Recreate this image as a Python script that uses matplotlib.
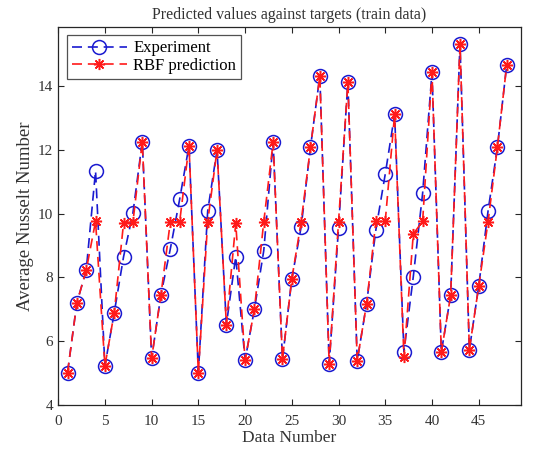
import matplotlib
matplotlib.use("Agg")
import matplotlib.pyplot as plt
import numpy as np

plt.rcParams['font.family'] = ['Liberation Serif', 'DejaVu Serif']

data_number = list(range(1, 49))
experiment = [5.01, 7.20, 8.22, 11.34, 5.22, 6.89, 8.65, 10.02, 12.26, 5.46,
              7.46, 8.89, 10.45, 12.13, 5.01, 10.08, 12.00, 6.52, 8.65, 5.40,
              7.00, 8.84, 12.24, 5.43, 7.95, 9.58, 12.08, 14.32, 5.28, 9.55,
              14.12, 5.38, 7.17, 9.50, 11.24, 13.11, 5.67, 8.02, 10.64, 14.43,
              5.65, 7.44, 15.33, 5.73, 7.72, 10.08, 12.08, 14.67]
rbf_pred = [5.01, 7.20, 8.22, 9.76, 5.22, 6.89, 9.71, 9.73, 12.26, 5.46,
            7.46, 9.74, 9.74, 12.13, 5.01, 9.74, 12.00, 6.52, 9.70, 5.40,
            7.00, 9.74, 12.24, 5.43, 7.95, 9.74, 12.08, 14.32, 5.28, 9.74,
            14.12, 5.38, 7.17, 9.76, 9.76, 13.11, 5.49, 9.36, 9.76, 14.43,
            5.65, 7.44, 15.33, 5.73, 7.72, 9.74, 12.08, 14.67]

xticks = [0, 5, 10, 15, 20, 25, 30, 35, 40, 45]
yticks = [4, 6, 8, 10, 12, 14]

fig = plt.figure(figsize=(5.54, 4.59), dpi=100)
ax = fig.add_axes([0.105, 0.118, 0.835, 0.823])

ax.plot(data_number, experiment, linestyle='--', color='#1a1ad0', marker='o',
        markersize=10, markerfacecolor='none', markeredgecolor='#1a1ad0',
        markeredgewidth=1.1, linewidth=1.2, dashes=(6, 3.5), label='Experiment')
ax.plot(data_number, rbf_pred, linestyle='--', color='#ff1a1a', marker=(8, 2, 0),
        markersize=8, markeredgecolor='#ff1a1a', markeredgewidth=1.1,
        linewidth=1.2, dashes=(6, 3.5), label='RBF prediction')

ax.set_xlim(0, 49.5)
ax.set_ylim(4, 15.85)
ax.set_xticks(xticks)
ax.set_yticks(yticks)
ax.tick_params(direction='in', top=True, right=True, labelsize=11,
               length=4, width=0.8, colors='#262626', labelcolor='#333333')
ax.tick_params(axis='x', pad=7)
for s in ax.spines.values():
    s.set_linewidth(0.9)
    s.set_color('#262626')

ax.set_title('Predicted values against targets (train data)', fontsize=11.5,
             color='#333333', pad=6)
ax.set_xlabel('Data Number', fontsize=12.5, color='#333333', labelpad=2)
ax.set_ylabel('Average Nusselt Number', fontsize=13.5, color='#333333', labelpad=3)

leg = ax.legend(loc='upper left', fontsize=12, frameon=True, fancybox=False,
                edgecolor='#262626', borderaxespad=0.5, handlelength=3.3,
                borderpad=0.3, labelspacing=0.1, handletextpad=0.4)
leg.get_frame().set_linewidth(0.9)

fig.savefig('out.png', dpi=100, facecolor='white')
